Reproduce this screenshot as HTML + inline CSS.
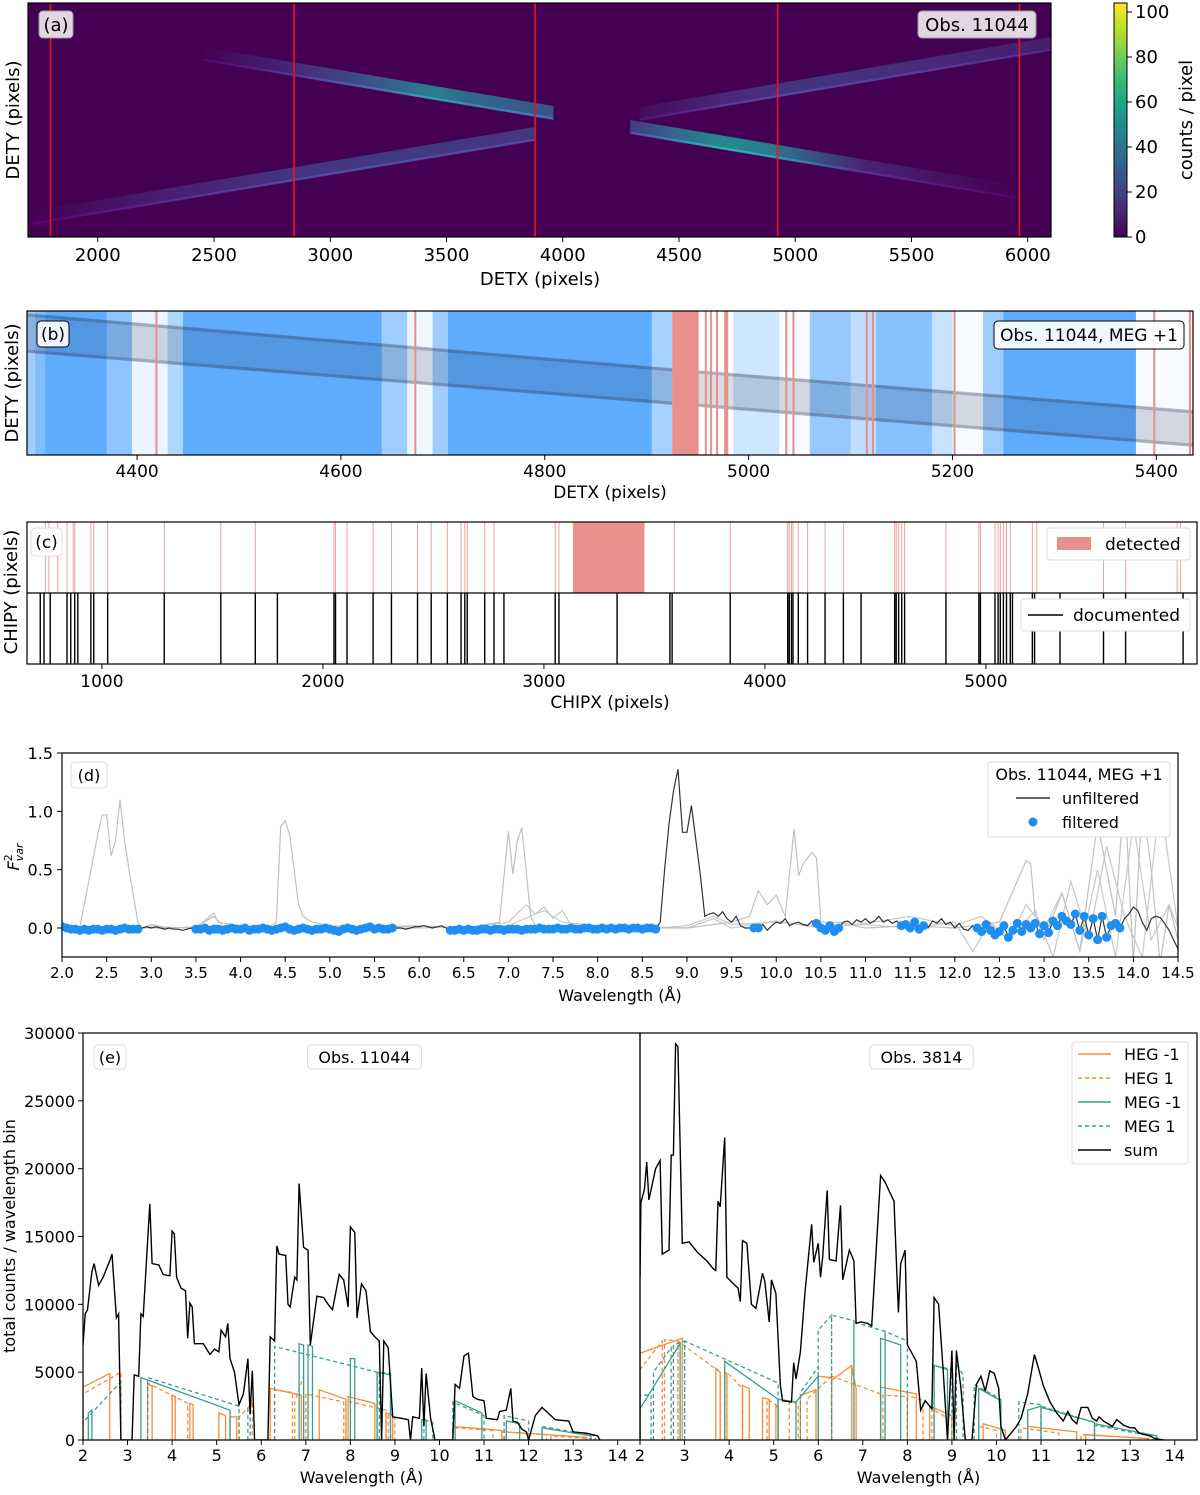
<!DOCTYPE html>
<html><head><meta charset="utf-8">
<style>
html,body{margin:0;padding:0;background:#fff;}
svg text{font-family:"DejaVu Sans","Liberation Sans",sans-serif;fill:#000;}
</style></head>
<body>
<svg id="fig" xmlns="http://www.w3.org/2000/svg" width="1200" height="1490" viewBox="0 0 1200 1490">
<defs>
<linearGradient id="viridisV" x1="0" y1="1" x2="0" y2="0">
<stop offset="0" stop-color="#440154"/><stop offset="0.11" stop-color="#482878"/><stop offset="0.22" stop-color="#3e4989"/><stop offset="0.33" stop-color="#31688e"/><stop offset="0.44" stop-color="#26828e"/><stop offset="0.55" stop-color="#1f9e89"/><stop offset="0.66" stop-color="#35b779"/><stop offset="0.77" stop-color="#6ece58"/><stop offset="0.88" stop-color="#b5de2b"/><stop offset="1" stop-color="#fde725"/>
</linearGradient>
<clipPath id="clipA"><rect x="28" y="3" width="1023" height="234"/></clipPath>
<clipPath id="clipB"><rect x="27" y="311" width="1166" height="144"/></clipPath>
<clipPath id="clipC"><rect x="27" y="522" width="1170" height="142"/></clipPath>
<clipPath id="clipD"><rect x="62" y="753" width="1116" height="204"/></clipPath>
<clipPath id="clipEL"><rect x="83" y="1033" width="557" height="407"/></clipPath>
<clipPath id="clipER"><rect x="640" y="1033" width="557" height="407"/></clipPath>
</defs>
</svg>
<script>
// ---------------- DATA ----------------
// Panel (a)
const aRedLines = [1797, 2844, 3881, 4924, 5964];
const aStripeNames = ['meg-minus-stripe','heg-plus-stripe','heg-minus-stripe','meg-plus-stripe'];
const aStripeX0 = [1720, 2450, 4290, 4330];
const aStripeX1 = [3880, 3960, 5950, 6100];
const aStripeY0 = [19, 183, 110, 123];
const aStripeY1 = [103, 124, 45, 193];
const aStripeKnotsX = [[1720,2300,2845,3300,3880],[2450,2800,3200,3450,3600,3960],[4290,4500,4700,4900,5300,5950],[4330,4700,5000,5500,6100]];
const aStripeCounts = [[0,9,16,18,16],[0,10,28,45,34,28],[18,36,50,42,10,0],[3,12,16,13,8]];
const cbTicks = [0,20,40,60,80,100];
// Panel (b)
const bBgX0 = [4292,4300,4310,4370,4395,4430,4445,4640,4665,4690,4705,4905,4925,4985,5030,5060,5100,5125,5180,5200,5230,5250,5380];
const bBgX1 = [4300,4310,4370,4395,4430,4445,4640,4665,4690,4705,4905,4925,4985,5030,5060,5100,5125,5180,5200,5230,5250,5380,5436];
const bBgLevel = [0.6,0.8,1,0.7,0.12,0.5,1,0.6,0.1,0.6,1,0.55,0,0.3,0.05,0.65,0.4,0.75,0.35,0.05,0.6,1,0.05];
const bRedX0 = [4418,4672,4925,4957,4962,4968,4976,5036,5043,5115,5121,5201,5397,5432];
const bRedX1 = [4420,4674,4951,4959,4964,4970,4980,5038,5045,5117,5123,5203,5399,5434];
const bTraceX = [4292, 4925, 5436];
const bTraceTop = [313, 368, 410];
const bTraceWidth = [40, 37, 37];
const bTraceAlpha = [0.17, 0.17, 0.06];
const bTicks = [4400,4600,4800,5000,5200,5400];
// Panel (c)
const cDocumented = [721,738,766,842,859,877,891,950,963,1026,1282,1538,1694,1794,2050,2057,2109,2227,2310,2428,2490,2563,2625,2642,2653,2732,2774,2819,3051,3068,3331,3570,3580,3843,4103,4110,4120,4127,4151,4193,4272,4355,4435,4587,4594,4605,4619,4632,4819,4968,4975,5041,5055,5065,5079,5093,5110,5120,5210,5220,5335,5532,5632,5892];
const cDetected = [744,760,800,842,870,877,950,963,1026,1282,1538,1694,2050,2057,2109,2227,2310,2428,2490,2563,2625,2642,2653,2732,2774,3051,3068,3590,3843,4103,4110,4120,4127,4151,4193,4272,4355,4587,4594,4605,4619,4632,4819,4968,4975,5041,5055,5065,5079,5093,5110,5210,5230,5532,5632,5865,5880];
const cBandStart = [3131];
const cBandEnd = [3455];
const cTicks = [1000,2000,3000,4000,5000];
// Panel (d)
const dUnfiltered = [
0.01,0.0,-0.01,-0.01,-0.02,-0.01,-0.02,-0.01,-0.01,-0.02,-0.01,-0.01,-0.02,-0.01,0.0,-0.01,-0.01,-0.01,
0.0,0.01,0.0,0.01,0.0,-0.01,0.0,-0.01,-0.01,-0.02,-0.01,0.0,
-0.01,-0.01,0.0,-0.02,-0.01,-0.01,-0.02,-0.01,0.0,-0.01,-0.01,0.0,-0.02,-0.01,-0.01,0.0,-0.01,-0.02,-0.01,0.0,0.01,-0.01,-0.02,-0.01,0.0,-0.01,-0.02,-0.01,-0.01,0.0,-0.01,-0.02,-0.03,-0.01,0.0,-0.01,-0.02,-0.01,0.0,0.01,-0.01,0.0,-0.01,-0.01,0.0,
0.0,0.0,-0.01,0.0,0.01,0.01,0.02,0.01,0.0,0.01,0.02,0.0,
-0.02,-0.02,-0.01,-0.02,-0.01,-0.02,-0.02,-0.01,-0.01,-0.02,-0.01,-0.01,-0.02,-0.01,-0.01,-0.01,-0.02,-0.01,-0.01,-0.01,0.0,-0.01,-0.01,-0.01,0.0,-0.01,-0.01,0.0,-0.01,-0.01,0.0,0.0,-0.01,-0.01,0.0,-0.01,0.0,-0.01,0.0,0.0,-0.01,0.0,0.0,-0.01,0.0,0.0,-0.01,
0.05,0.5,0.9,1.18,1.36,0.82,0.82,1.05,0.75,0.45,0.1,0.12,0.13,0.1,0.14,0.08,0.05,0.1,0.02,0.0,0.0,
0.0,0.0,0.03,-0.02,0.02,0.05,0.04,0.08,0.02,0.04,0.05,0.03,0.02,0.06,0.04,0.0,-0.02,0.02,-0.03,0.0,
0.05,0.06,0.03,0.07,0.05,0.08,0.04,0.06,0.1,0.05,0.07,0.04,0.06,0.02,0.03,0.0,0.05,-0.01,0.02,0.0,
0.06,0.04,0.08,0.03,0.05,0.0,0.04,-0.01,-0.02,0.02,0.0,-0.03,0.03,-0.02,-0.06,-0.03,0.02,-0.08,-0.02,0.04,
-0.03,0.03,0.0,0.04,-0.05,0.02,-0.04,0.06,0.02,0.1,0.06,0.03,0.12,-0.02,0.1,-0.06,0.08,-0.1,0.1,-0.08,
0.02,0.04,0.0,0.08,0.12,0.18,0.15,0.05,-0.02,0.08,0.1,0.09,0.04,-0.02,-0.1,-0.18];
const dFilterStart = [2.0,3.5,6.35,9.75,10.45,11.4,12.25];
const dFilterEnd = [2.85,5.7,8.65,9.8,10.7,11.65,13.85];
const dGray1X = [2.0,2.2,2.3,2.4,2.45,2.5,2.55,2.6,2.65,2.7,2.75,2.85,2.9,3.0,3.2,3.5,3.7,3.8,4.0,4.3,4.4,4.45,4.5,4.55,4.6,4.65,4.7,4.8,5.0,5.5,6.0,6.5,6.9,7.0,7.05,7.1,7.15,7.25,7.3,7.5,8.0,8.7,9.0,9.5,9.7,9.8,9.9,10.0,10.1,10.2,10.25,10.3,10.4,10.45,10.5,10.7,11.0,11.5,12.0,12.5,12.8,12.85,12.9,13.0,13.2,13.4,13.6,13.8,13.9,14.0,14.1,14.2,14.3,14.4,14.5];
const dGray1Y = [0,0.01,0.4,0.8,0.97,0.97,0.62,0.75,1.1,0.75,0.5,0.05,0,0.03,0,0.01,0.1,0.02,0.01,0.0,0.05,0.87,0.92,0.8,0.5,0.2,0.1,0.05,0.02,0.01,0.02,0,0.05,0.83,0.46,0.75,0.86,0.1,0.02,0.0,0.01,0.0,0.0,0.05,0.1,0.32,0.2,0.28,0.1,0.85,0.45,0.55,0.65,0.6,0.05,0.05,0.0,0.02,0.0,0.05,0.58,0.55,0.1,-0.1,0.3,-0.2,0.9,0.1,1.2,-0.3,1.1,0.5,-0.3,0.2,-0.1];
const dGray2X = [2.0,2.5,3.0,3.5,3.7,3.75,4.0,4.5,5.0,5.5,6.0,6.5,7.0,7.2,7.3,7.4,7.5,7.6,7.7,8.0,8.5,9.0,9.3,9.5,10.0,10.5,11.0,11.5,12.0,12.2,12.4,12.6,12.8,13.0,13.2,13.4,13.6,13.8,14.0,14.2,14.4,14.5];
const dGray2Y = [0.0,-0.01,0.01,0.0,0.13,0.05,0.02,0.0,0.01,0.0,0.02,0.0,0.05,0.2,0.12,0.18,0.08,0.15,0.03,0.0,-0.01,0.02,0.1,0.03,0.05,0.02,0.03,0.0,0.05,-0.2,0.05,-0.1,0.2,0.0,0.3,-0.2,0.5,-0.25,0.9,-0.1,0.2,0.0];
const dGray3X = [2.0,3.0,4.0,5.0,6.0,7.0,7.4,7.6,8.0,9.0,9.3,9.5,10.0,10.5,11.0,11.5,12.0,12.3,12.6,12.9,13.1,13.3,13.5,13.7,13.9,14.1,14.3,14.5];
const dGray3Y = [0.01,0.0,0.01,0.0,0.0,0.02,0.15,0.05,0.02,0.0,0.08,0.0,0.06,0.0,0.04,0.1,0.02,0.1,-0.1,0.15,-0.25,0.4,-0.1,0.7,0.1,-0.25,1.1,0.0];
const dYTicks = [0.0,0.5,1.0,1.5];
const dXTicks = [2.0,2.5,3.0,3.5,4.0,4.5,5.0,5.5,6.0,6.5,7.0,7.5,8.0,8.5,9.0,9.5,10.0,10.5,11.0,11.5,12.0,12.5,13.0,13.5,14.0,14.5];
// Panel (e)  segments: [lambdaStart, lambdaEnd, countsStart, countsEnd]
const eSumL_X = [2.0,2.05,2.1,2.2,2.25,2.35,2.45,2.55,2.6,2.65,2.75,2.8,2.85,3.1,3.15,3.25,3.3,3.35,3.5,3.55,3.7,3.8,3.95,4.0,4.05,4.1,4.2,4.3,4.35,4.4,4.45,4.5,4.7,4.85,4.95,5.05,5.1,5.2,5.25,5.3,5.4,5.5,5.6,5.7,5.75,5.8,5.85,6.15,6.2,6.3,6.35,6.4,6.55,6.6,6.65,6.75,6.8,6.85,6.95,7.05,7.1,7.25,7.4,7.5,7.6,7.75,7.85,7.95,8.0,8.1,8.15,8.25,8.35,8.45,8.55,8.65,8.7,8.75,8.85,8.95,9.15,9.3,9.35,9.4,9.55,9.6,9.65,9.7,9.8,9.9,10.3,10.35,10.45,10.55,10.65,10.75,10.85,11.0,11.05,11.3,11.35,11.5,11.6,11.65,11.75,11.85,11.95,12.0,12.15,12.3,12.4,12.5,12.6,12.9,13.0,13.3,13.55,13.6];
const eSumL_Y = [7000,9300,9600,12400,13000,11400,12000,12800,13200,13700,9000,9300,0,0,4800,4700,9300,9100,17400,13000,12900,12200,12100,15400,15200,12000,11200,11000,7500,10100,9800,7100,7100,6300,6700,6500,8100,7600,8600,6000,5000,2600,3400,6000,1900,5100,0,0,7600,7300,14300,13700,13600,10000,9800,12000,11800,18900,14200,14000,7000,10600,10500,10000,9600,12200,11800,9800,15700,15300,9000,11500,11000,8000,7600,7300,0,7300,6800,1700,1600,1500,0,1700,1600,5300,1000,4900,1600,0,0,4100,3800,6200,6400,3200,3000,2900,1600,1500,2100,2200,3800,1400,1300,800,600,0,1800,2400,2100,1800,1500,1400,600,500,300,0];
const eSumR_X = [2.0,2.02,2.1,2.15,2.2,2.35,2.45,2.5,2.65,2.7,2.75,2.8,2.85,2.95,3.1,3.2,3.3,3.5,3.65,3.7,3.75,3.8,3.9,3.95,4.1,4.2,4.25,4.3,4.4,4.5,4.6,4.75,4.8,4.9,4.95,5.05,5.15,5.2,5.4,5.45,5.5,5.6,5.7,5.85,5.9,6.0,6.05,6.1,6.2,6.25,6.4,6.5,6.55,6.7,6.8,6.85,6.95,7.1,7.2,7.4,7.5,7.6,7.7,7.8,7.85,7.95,8.0,8.2,8.3,8.4,8.55,8.6,8.7,8.8,8.9,9.0,9.05,9.1,9.2,9.3,9.45,9.55,9.65,9.75,9.85,9.95,10.05,10.1,10.2,10.45,10.55,10.7,10.85,10.95,11.05,11.2,11.35,11.5,11.6,11.7,11.8,11.9,12.05,12.15,12.25,12.3,12.4,12.6,12.7,12.85,13.0,13.1,13.2,13.45,13.55,13.75];
const eSumR_Y = [12000,17500,18500,20500,17700,20000,20600,13700,14000,21000,21000,29200,29000,14500,14600,14200,13800,13200,12600,12500,17600,17200,22300,12000,11500,11200,10200,14700,14500,10000,9700,12300,11700,8700,11800,10800,4000,2900,2800,5700,4500,6500,10800,15900,13100,14500,12000,13500,18400,13300,13200,17300,11800,14000,13200,8600,8700,8600,8400,19500,19000,18300,17600,9400,13000,14000,7000,5800,2200,2900,2300,10500,10000,5300,0,6600,0,6600,3900,0,0,4100,4700,3600,5100,4900,3800,1000,0,1000,1600,3400,6300,5200,4000,2800,2000,1400,2100,1500,1200,2400,2400,1600,1400,1700,1400,1000,1500,1100,900,900,500,300,100,0];
const eHegM1L = [[2.0,2.6,3900,4900],[3.45,3.55,4100,4000],[4.0,4.07,3300,3200],[4.4,4.47,2700,2600],[5.05,5.2,2000,1800],[5.3,5.45,1700,1700],[6.2,6.9,3800,3300],[7.3,7.9,3700,3000],[7.95,8.55,3200,2700],[8.8,8.95,2000,1800],[10.3,11.4,1000,700],[11.5,13.3,600,200]];
const eHeg1L = [[2.0,2.85,3400,5000],[3.45,4.35,4200,2700],[5.5,5.8,1700,2700],[6.3,6.7,3700,3500],[6.75,6.95,2800,4700],[7.0,7.85,3400,2800],[7.9,8.8,2900,2200],[8.85,9.0,2000,1800],[10.3,11.2,900,700],[11.4,12.4,600,400],[12.5,13.4,300,100]];
const eMegM1L = [[2.12,2.2,2000,2200],[3.3,5.3,4600,2200],[6.85,6.95,7100,7000],[7.05,7.15,7000,6900],[8.0,8.1,6000,6000],[8.6,8.9,5000,4800],[9.6,9.7,1500,1500],[10.35,10.95,2900,2000],[11.5,11.8,1400,1200],[12.3,13.4,900,300]];
const eMeg1L = [[2.0,2.85,1300,4300],[3.45,5.5,4600,2500],[5.7,5.75,2400,2600],[6.3,8.6,6900,5000],[8.65,8.9,5000,4900],[9.65,9.85,1500,1300],[10.3,11.0,2800,1800],[11.45,12.0,1800,1400],[12.3,13.5,1000,300]];
const eHegM1R = [[2.0,2.95,6400,7500],[3.7,3.8,5300,5000],[3.9,3.95,5000,4900],[4.3,4.45,4000,3800],[4.75,4.9,3100,3000],[5.05,5.1,2500,2400],[5.6,5.95,3300,3700],[6.0,6.3,4700,4600],[6.3,6.75,4400,5500],[6.75,6.85,5400,3800],[7.4,8.2,3900,3400],[8.5,9.0,2500,1800],[9.7,10.2,1200,700],[10.7,11.8,1000,600],[12.0,13.4,400,100]];
const eHeg1R = [[2.0,2.5,5200,7300],[2.55,2.85,7400,7300],[2.85,3.8,7300,5000],[3.95,4.3,5000,3800],[4.85,5.1,3000,2500],[5.35,5.55,2800,2700],[5.75,6.3,3000,4700],[6.3,7.4,4700,3400],[7.45,8.0,3300,3200],[8.0,8.35,3300,2900],[8.55,8.9,2300,1600],[9.6,10.0,1000,700],[10.55,11.4,900,500],[11.9,13.5,400,100]];
const eMegM1R = [[2.0,2.9,2300,7100],[3.9,5.1,5800,3000],[5.1,5.5,3000,2800],[5.5,6.0,2800,4700],[7.4,7.85,7500,7000],[8.6,8.9,5500,5200],[9.6,10.1,3800,2900],[10.7,11.0,2200,2500],[11.0,12.2,2400,1300],[12.2,13.6,1200,300]];
const eMeg1R = [[2.0,2.25,3300,3300],[2.3,2.7,5000,6800],[2.75,3.0,7000,7300],[3.0,5.1,7300,4200],[5.6,6.0,3500,5400],[6.0,6.3,8100,9200],[6.3,6.8,9200,8800],[6.8,7.5,8700,8000],[7.5,8.0,8000,7300],[8.6,9.0,5500,5200],[9.1,9.25,5600,4800],[9.5,10.1,4100,3000],[10.5,11.0,2800,2600],[11.0,12.2,2500,1300],[12.2,13.6,1100,200]];
const eYTicks = [0,5000,10000,15000,20000,25000,30000];
const eXTicks = [2,3,4,5,6,7,8,9,10,11,12,13,14];

// ---------------- HELPERS ----------------
const NS = 'http://www.w3.org/2000/svg';
const svg = document.getElementById('fig');
function mk(tag, attrs, parent){
  const el = document.createElementNS(NS, tag);
  for (const k in attrs) el.setAttribute(k, attrs[k]);
  (parent || svg).appendChild(el);
  return el;
}
function txt(s, x, y, size, anchor, parent){
  const t = mk('text', {x:x, y:y, 'font-size':size, 'text-anchor':anchor||'middle'}, parent);
  t.textContent = s;
  return t;
}
function lin(d0,d1,r0,r1){ return v => r0 + (v-d0)/(d1-d0)*(r1-r0); }
const VIR = [[68,1,84],[72,40,120],[62,73,137],[49,104,142],[38,130,142],[31,158,137],[53,183,121],[110,206,88],[181,222,43],[253,231,37]];
function viridis(t){
  t = Math.max(0, Math.min(1, t));
  const f = t*(VIR.length-1), i = Math.min(VIR.length-2, Math.floor(f)), r = f-i;
  const c = VIR[i].map((v,k)=>Math.round(v + (VIR[i+1][k]-v)*r));
  return 'rgb('+c.join(',')+')';
}
function frame(x,y,w,h,name){
  const r = mk('rect', {x:x, y:y, width:w, height:h, fill:'none', stroke:'#000', 'stroke-width':1.2});
  
  
  return r;
}
function labelBox(s, x, y, w, h, size, fill, stroke, name){
  const g = mk('g', {});
  
  
  mk('rect', {x:x, y:y, width:w, height:h, rx:4, fill:fill, stroke:stroke, 'stroke-width':1, 'fill-opacity':0.9}, g);
  txt(s, x+w/2, y+h/2+size*0.36, size, 'middle', g);
  return g;
}

// ---------------- PANEL (a) ----------------
const ax = lin(1700, 6100, 28, 1051);
const ay = v => 237 - v;
const gA = mk('g', {'clip-path':'url(#clipA)'});


mk('rect', {x:28, y:3, width:1023, height:234, fill:'#440154'}, gA);
const defs = svg.querySelector('defs');
aStripeX0.forEach((x0, i) => {
  const gid = 'stripeGrad'+i;
  const grad = mk('linearGradient', {id:gid, gradientUnits:'userSpaceOnUse', x1:ax(aStripeX0[i]), y1:0, x2:ax(aStripeX1[i]), y2:0}, defs);
  const kx = aStripeKnotsX[i], kc = aStripeCounts[i];
  kx.forEach((k, j) => {
    mk('stop', {offset:(k-aStripeX0[i])/(aStripeX1[i]-aStripeX0[i]), 'stop-color':viridis(kc[j]/104)}, grad);
  });
  const y0 = aStripeY0[i], y1 = aStripeY1[i], h = 7;
  const p = mk('polygon', {points:[ax(x0)+','+ay(y0+h), ax(aStripeX1[i])+','+ay(y1+h), ax(aStripeX1[i])+','+ay(y1-h), ax(x0)+','+ay(y0-h)].join(' '), fill:'url(#'+gid+')'}, gA);
  
  
  const e1 = mk('line', {x1:ax(x0), y1:ay(y0-h+1.5), x2:ax(aStripeX1[i]), y2:ay(y1-h+1.5), stroke:'url(#'+gid+')', 'stroke-width':2, opacity:1, filter:'brightness(1.3)'}, gA);
  
  
});
aRedLines.forEach(v => {
  const l = mk('line', {x1:ax(v), x2:ax(v), y1:3, y2:237, stroke:'#e8151b', 'stroke-width':1.6});
  
  
});
frame(28,3,1023,234,'panel-a-frame');
for (let v=2000; v<=6000; v+=500){
  mk('line', {x1:ax(v), x2:ax(v), y1:237, y2:242, stroke:'#000'});
  const t = txt(String(v), ax(v), 261, 18);
  
  
}
let t1 = txt('DETX (pixels)', 540, 285, 18);


t1 = txt('DETY (pixels)', 0, 0, 18);
t1.setAttribute('transform', 'translate(19,120) rotate(-90)');


labelBox('(a)', 39, 11, 34, 27, 18, '#f3edf2', '#999', 'panel-label-a');
labelBox('Obs. 11044', 918, 11, 118, 27, 18, '#f3edf2', '#999', 'obs-label-a');
const cbY = lin(0, 104, 237, 3);
const cb = mk('rect', {x:1114, y:3, width:13, height:234, fill:'url(#viridisV)', stroke:'#000', 'stroke-width':1});


cbTicks.forEach(v => {
  mk('line', {x1:1127, x2:1132, y1:cbY(v), y2:cbY(v), stroke:'#000'});
  const t = txt(String(v), 1135, cbY(v)+6, 18, 'start');
  
  
});
t1 = txt('counts / pixel', 0, 0, 18);
t1.setAttribute('transform', 'translate(1192,120) rotate(-90)');



// ---------------- PANEL (b) ----------------
const bx = lin(4292, 5436, 27, 1193);
const gB = mk('g', {'clip-path':'url(#clipB)'});


bBgX0.forEach((x0, i) => {
  const L = bBgLevel[i];
  const c = 'rgb('+Math.round(255-(255-95)*L)+','+Math.round(255-(255-172)*L)+',255)';
  const r = mk('rect', {x:bx(x0), y:311, width:bx(bBgX1[i])-bx(x0)+0.5, height:144, fill:c}, gB);
  
  
});
for (let i=0;i<bTraceX.length-1;i++){
  const xa = bx(bTraceX[i]), xb = bx(bTraceX[i+1]);
  const ta = bTraceTop[i], tb = bTraceTop[i+1];
  const wa = bTraceWidth[i], wb = bTraceWidth[i+1];
  const p = mk('polygon', {points:`${xa},${ta} ${xb},${tb} ${xb},${tb+wb} ${xa},${ta+wa}`, fill:'#203050', 'fill-opacity':bTraceAlpha[i]}, gB);
  
  
  mk('line', {x1:xa, y1:ta+2, x2:xb, y2:tb+2, stroke:'#223', 'stroke-width':3, 'stroke-opacity':bTraceAlpha[i]*1.4}, gB);
  mk('line', {x1:xa, y1:ta+wa-2, x2:xb, y2:tb+wb-2, stroke:'#223', 'stroke-width':3, 'stroke-opacity':bTraceAlpha[i]*1.4}, gB);
}
bRedX0.forEach((x0, i) => {
  const r = mk('rect', {x:bx(x0), y:311, width:Math.max(1.5, bx(bRedX1[i])-bx(x0)), height:144, fill:'#e8908c'}, gB);
  
  
});
frame(27,311,1166,144,'panel-b-frame');
bTicks.forEach(v => {
  mk('line', {x1:bx(v), x2:bx(v), y1:455, y2:460, stroke:'#000'});
  const t = txt(String(v), bx(v), 477, 17);
  
  
});
t1 = txt('DETX (pixels)', 610, 498, 17);


t1 = txt('DETY (pixels)', 0, 0, 18);
t1.setAttribute('transform', 'translate(18,383) rotate(-90)');


labelBox('(b)', 37, 321, 32, 26, 17, '#fff', '#000', 'panel-label-b');
labelBox('Obs. 11044, MEG +1', 994, 321, 190, 28, 17, '#fff', '#000', 'obs-label-b');

// ---------------- PANEL (c) ----------------
const cx = lin(661, 5955, 27, 1197);
const gC = mk('g', {'clip-path':'url(#clipC)'});


cDetected.forEach(v => {
  const l = mk('line', {x1:cx(v), x2:cx(v), y1:522, y2:593, stroke:'#f0a0a0', 'stroke-width':1}, gC);
  
  
});
cBandStart.forEach((v,i) => {
  const r = mk('rect', {x:cx(v), y:522, width:cx(cBandEnd[i])-cx(v), height:71, fill:'#e8908c'}, gC);
  
  
});
cDocumented.forEach(v => {
  const l = mk('line', {x1:cx(v), x2:cx(v), y1:593, y2:664, stroke:'#000', 'stroke-width':1.4}, gC);
  
  
});
mk('line', {x1:27, x2:1197, y1:593, y2:593, stroke:'#000', 'stroke-width':1.2});
frame(27,522,1170,142,'panel-c-frame');
cTicks.forEach(v => {
  mk('line', {x1:cx(v), x2:cx(v), y1:664, y2:669, stroke:'#000'});
  const t = txt(String(v), cx(v), 687, 17);
  
  
});
t1 = txt('CHIPX (pixels)', 610, 708, 17);


t1 = txt('CHIPY (pixels)', 0, 0, 18);
t1.setAttribute('transform', 'translate(17,592) rotate(-90)');


labelBox('(c)', 31, 528, 31, 28, 17, '#fff', '#ddd', 'panel-label-c');
let lg = mk('g', {});


mk('rect', {x:1047, y:528, width:143, height:32, rx:3, fill:'#fff', stroke:'#ddd'}, lg);
mk('rect', {x:1057, y:537, width:34, height:13, fill:'#e8908c'}, lg);
txt('detected', 1105, 550, 17, 'start', lg);
lg = mk('g', {});


mk('rect', {x:1021, y:599, width:169, height:32, rx:3, fill:'#fff', stroke:'#ddd'}, lg);
mk('line', {x1:1028, x2:1063, y1:615, y2:615, stroke:'#000', 'stroke-width':1.5}, lg);
txt('documented', 1073, 621, 17, 'start', lg);

// ---------------- PANEL (d) ----------------
const dx = lin(2.0, 14.5, 62, 1178);
const dy = lin(0, 1.5, 928, 753);
const gD = mk('g', {'clip-path':'url(#clipD)'});


function polyline(xs, ys, attrs, parent, name){
  const n = Math.min(xs.length, ys.length);
  const pts = [];
  for (let i=0;i<n;i++) pts.push(dx(xs[i]).toFixed(1)+','+dy(ys[i]).toFixed(1));
  const p = mk('polyline', Object.assign({points:pts.join(' '), fill:'none'}, attrs), parent);
  
  
  return p;
}
polyline(dGray2X, dGray2Y, {stroke:'#c8c8c8', 'stroke-width':1.2}, gD, 'other-obs-line-2');
polyline(dGray3X, dGray3Y, {stroke:'#c8c8c8', 'stroke-width':1.2}, gD, 'other-obs-line-3');
polyline(dGray1X, dGray1Y, {stroke:'#c0c0c0', 'stroke-width':1.2}, gD, 'other-obs-line-1');
const dWl = dUnfiltered.map((v,i) => 2.0 + i*0.05);
polyline(dWl, dUnfiltered, {stroke:'#333', 'stroke-width':1.2}, gD, 'unfiltered-line');
dUnfiltered.forEach((v, i) => {
  const w = dWl[i];
  let inside = false;
  dFilterStart.forEach((s, k) => { if (w >= s-1e-6 && w <= dFilterEnd[k]+1e-6) inside = true; });
  if (!inside) return;
  const c = mk('circle', {cx:dx(w), cy:dy(v), r:4.5, fill:'#1e8ff0'}, gD);
  
  
});
frame(62,753,1116,204,'panel-d-frame');
dYTicks.forEach(v => {
  mk('line', {x1:57, x2:62, y1:dy(v), y2:dy(v), stroke:'#000'});
  const t = txt(v.toFixed(1), 53, dy(v)+6, 16, 'end');
  
  
});
dXTicks.forEach(v => {
  mk('line', {x1:dx(v), x2:dx(v), y1:957, y2:962, stroke:'#000'});
  const t = txt(v.toFixed(1), dx(v), 978, 15);
  
  
});
t1 = txt('Wavelength (Å)', 620, 1001, 16);


t1 = mk('text', {x:0, y:0, 'font-size':16, 'text-anchor':'middle', 'font-style':'italic', transform:'translate(19,857) rotate(-90)'});
t1.innerHTML = 'F<tspan dy="-7" font-size="11" font-style="normal">2</tspan><tspan dy="11" dx="-7" font-size="11">var</tspan>';


labelBox('(d)', 71, 762, 36, 26, 16, '#fff', '#ddd', 'panel-label-d');
lg = mk('g', {});


mk('rect', {x:988, y:762, width:182, height:75, rx:3, fill:'#fff', stroke:'#ddd'}, lg);
txt('Obs. 11044, MEG +1', 1079, 780, 16, 'middle', lg);
mk('line', {x1:1016, x2:1050, y1:798, y2:798, stroke:'#333', 'stroke-width':1.5}, lg);
txt('unfiltered', 1062, 804, 16, 'start', lg);
mk('circle', {cx:1033, cy:822, r:4.5, fill:'#1e8ff0'}, lg);
txt('filtered', 1062, 828, 16, 'start', lg);

// ---------------- PANEL (e) ----------------
const eyS = lin(0, 30000, 1440, 1033);
function ePanel(x0, x1, clipId, sumX, sumY, hm1, h1, mm1, m1, obs, tag){
  const ex = lin(2, 14.5, x0, x1);
  const g = mk('g', {'clip-path':'url(#'+clipId+')'});
  
  
  function segPath(segs, color, dash, name){
    let d = '';
    segs.forEach(s => {
      d += 'M'+ex(s[0]).toFixed(1)+','+eyS(0)+' L'+ex(s[0]).toFixed(1)+','+eyS(s[2]).toFixed(1)+' L'+ex(s[1]).toFixed(1)+','+eyS(s[3]).toFixed(1)+' L'+ex(s[1]).toFixed(1)+','+eyS(0)+' ';
    });
    const p = mk('path', {d:d, fill:'none', stroke:color, 'stroke-width':1.3}, g);
    if (dash) p.setAttribute('stroke-dasharray', '4,3');
    
    
  }
  segPath(hm1, '#f98a3a', false, 'heg-minus1-line');
  segPath(h1, '#f98a3a', true, 'heg-plus1-line');
  segPath(mm1, '#3a9e8f', false, 'meg-minus1-line');
  segPath(m1, '#3a9e8f', true, 'meg-plus1-line');
  const pts = [];
  for (let i=0;i<Math.min(sumX.length,sumY.length);i++) pts.push(ex(sumX[i]).toFixed(1)+','+eyS(sumY[i]).toFixed(1));
  const p = mk('polyline', {points:pts.join(' '), fill:'none', stroke:'#000', 'stroke-width':1.4}, g);
  
  
  eXTicks.forEach(v => {
    mk('line', {x1:ex(v), x2:ex(v), y1:1440, y2:1445, stroke:'#000'});
    const t = txt(String(v), ex(v), 1461, 16);
    
    
  });
  const t = txt('Wavelength (Å)', (x0+x1)/2, 1483, 16);
  
  
  labelBox(obs, (x0+x1)/2 - 1 - (obs.length*5.3), 1045, obs.length*10.6+8, 24, 16, '#fff', '#ddd', 'obs-label-e-'+tag);
}
ePanel(83, 640, 'clipEL', eSumL_X, eSumL_Y, eHegM1L, eHeg1L, eMegM1L, eMeg1L, 'Obs. 11044', 'left');
ePanel(640, 1197, 'clipER', eSumR_X, eSumR_Y, eHegM1R, eHeg1R, eMegM1R, eMeg1R, 'Obs. 3814', 'right');
frame(83,1033,557,407,'panel-e-left-frame');
frame(640,1033,557,407,'panel-e-right-frame');
eYTicks.forEach(v => {
  mk('line', {x1:78, x2:83, y1:eyS(v), y2:eyS(v), stroke:'#000'});
  const t = txt(String(v), 75, eyS(v)+6, 16, 'end');
  
  
});
t1 = txt('total counts / wavelength bin', 0, 0, 16);
t1.setAttribute('transform', 'translate(15,1236) rotate(-90)');


labelBox('(e)', 94, 1045, 32, 24, 16, '#fff', '#ddd', 'panel-label-e');
lg = mk('g', {});


mk('rect', {x:1072, y:1042, width:116, height:122, rx:3, fill:'#fff', stroke:'#ddd'}, lg);
const legNames = ['HEG -1','HEG 1','MEG -1','MEG 1','sum'];
const legColors = ['#f98a3a','#f98a3a','#3a9e8f','#3a9e8f','#000'];
const legDash = [false,true,false,true,false];
legNames.forEach((n,i) => {
  const y = 1054 + i*24;
  const l = mk('line', {x1:1078, x2:1111, y1:y, y2:y, stroke:legColors[i], 'stroke-width':1.6}, lg);
  if (legDash[i]) l.setAttribute('stroke-dasharray', '4,3');
  const t = txt(n, 1124, y+6, 16, 'start', lg);
  
  
});
</script>
</body></html>
